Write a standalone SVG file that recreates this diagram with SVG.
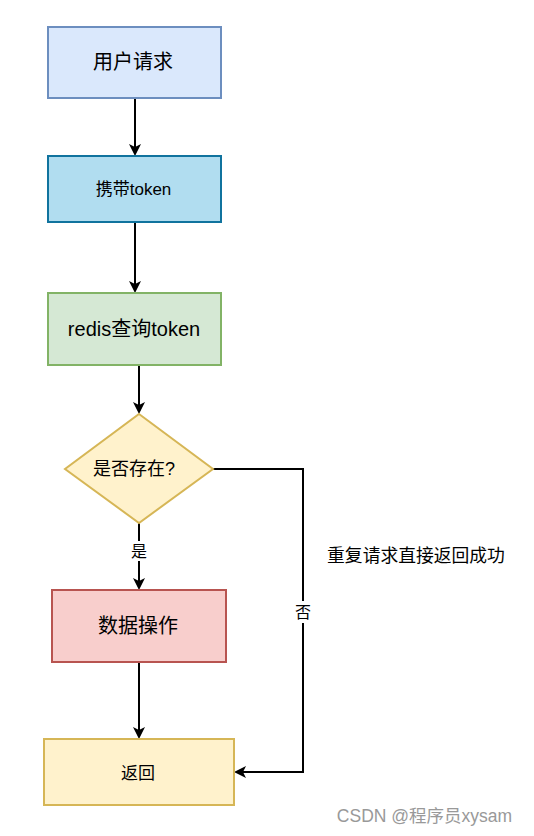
<svg xmlns="http://www.w3.org/2000/svg" width="534" height="836" viewBox="0 0 534 836">
<style>
text{font-family:"Liberation Sans","Noto Sans CJK SC",sans-serif;fill:#000;text-anchor:middle;dominant-baseline:central}
.n{stroke-width:2}
.e{fill:none;stroke:#000;stroke-width:2}
</style>
<rect width="534" height="836" fill="#fff"/>
<g id="edges">
<path class="e" d="M135,98 V150"/>
<path d="M129,144 L135,156 L141,144 L135,147 Z"/>
<path class="e" d="M135,222 V288"/>
<path d="M129,281 L135,293 L141,281 L135,284 Z"/>
<path class="e" d="M139,365 V408"/>
<path d="M133,402 L139,414 L145,402 L139,405 Z"/>
<path class="e" d="M139,523 V584"/>
<path d="M133,578 L139,590 L145,578 L139,581 Z"/>
<path class="e" d="M139,662 V733"/>
<path d="M133,727 L139,739 L145,727 L139,730 Z"/>
<path class="e" d="M213,469 H303 V772 H240"/>
<path d="M246,766 L234,772 L246,778 L243,772 Z"/>
<rect x="130" y="541" width="18" height="20" fill="#fff"/>
<text x="139" y="551" font-size="16">是</text>
<rect x="294" y="601" width="18" height="22" fill="#fff"/>
<text x="303" y="612" font-size="16">否</text>
<text x="416" y="556" font-size="17.8">重复请求直接返回成功</text>
</g>
<g id="n1"><rect class="n" x="48" y="27" width="173" height="71" fill="#dae8fc" stroke="#6c8ebf"/><text x="133" y="62" font-size="20">用户请求</text></g>
<g id="n2"><rect class="n" x="48" y="156" width="173" height="66" fill="#b1ddf0" stroke="#10739e"/><text x="133.5" y="189" font-size="17">携带token</text></g>
<g id="n3"><rect class="n" x="48" y="293" width="173" height="72" fill="#d5e8d4" stroke="#82b366"/><text x="134" y="329" font-size="20">redis查询token</text></g>
<g id="n4"><path class="n" d="M139,414 L213,469 L139,523 L65,469 Z" fill="#fff2cc" stroke="#d6b656"/><text x="134" y="469" font-size="18">是否存在?</text></g>
<g id="n5"><rect class="n" x="52" y="590" width="174" height="72" fill="#f8cecc" stroke="#b85450"/><text x="138" y="626" font-size="20">数据操作</text></g>
<g id="n6"><rect class="n" x="44" y="739" width="190" height="66" fill="#fff2cc" stroke="#d6b656"/><text x="138" y="773" font-size="17">返回</text></g>
<text x="424.5" y="816" font-size="17.5" style="fill:#999">CSDN @程序员xysam</text>
</svg>
